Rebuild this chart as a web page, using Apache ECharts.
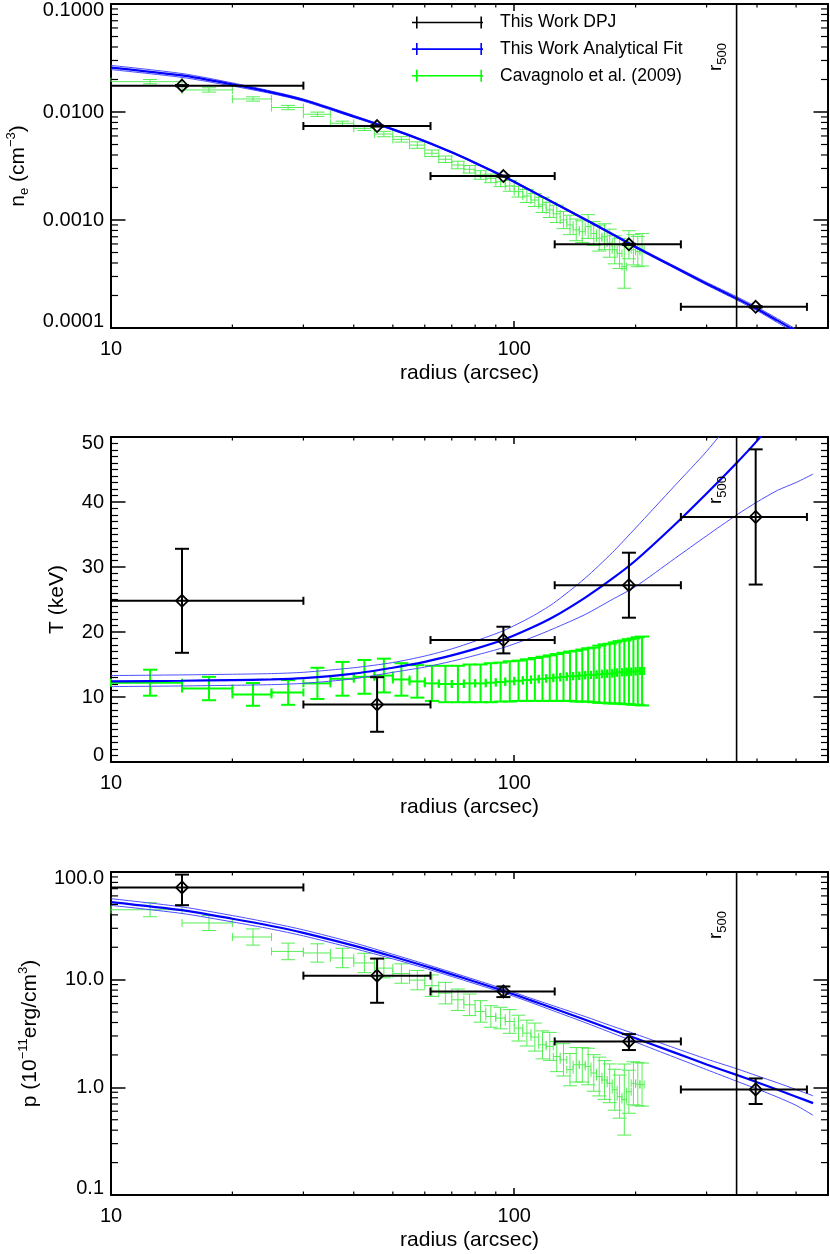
<!DOCTYPE html>
<html><head><meta charset="utf-8">
<script src="https://cdn.jsdelivr.net/npm/echarts@6/dist/echarts.min.js"></script>
<style>html,body{margin:0;padding:0;background:#fff}#c{width:830px;height:1254px}</style>
</head><body><div id="c"></div>
<script>
const FONT = 'Liberation Sans, Arial, Helvetica, sans-serif';

// ---------------- data ----------------
const R500 = 356;
const X_MIN = 10, X_MAX = 600;
const xMajorLabels = [10, 100];

// This Work DPJ (bins and values)
const dpjR   = [15, 45.7, 94, 192.5, 397];
const dpjRlo = [10, 30, 62, 126, 259];
const dpjRhi = [30, 62, 126, 259, 532];
const dpjNe    = [0.01754, 0.00741, 0.00255, 0.000595, 0.000157];
const dpjNeErr = [0.0002, 0.00008, 0.00003, 0.000007, 0.000002];
const dpjT    = [24.8, 8.85, 18.76, 27.2, 37.7];
const dpjTErr = [8.0, 4.2, 2.05, 5.0, 10.4];
const dpjP    = [71.9, 10.9, 7.77, 2.67, 0.955];
const dpjPErr = [22.7, 4.8, 0.88, 0.45, 0.255];

// Analytical fit (main, upper, lower)
const fitR = [10, 15, 20, 25, 30, 40, 50, 60, 70, 80, 94, 110, 125, 150, 175, 200, 250, 300, 356, 400, 450, 500, 551];
const neFit   = [0.0258, 0.0218, 0.0180, 0.0152, 0.0129, 0.0091, 0.0069, 0.00537, 0.00423, 0.00338, 0.00254, 0.00187, 0.00145, 0.00101, 0.00074, 0.000562, 0.000365, 0.000257, 0.000188, 0.000150, 0.000117, 0.0000935, 0.000076];
const neFitHi = [0.0270, 0.0227, 0.0186, 0.0156, 0.0132, 0.0093, 0.0070, 0.00545, 0.00429, 0.00343, 0.00258, 0.0019, 0.00147, 0.00103, 0.000755, 0.000574, 0.000374, 0.000265, 0.000195, 0.000156, 0.000122, 0.0000977, 0.0000795];
const neFitLo = [0.0247, 0.0209, 0.0174, 0.0148, 0.0126, 0.0089, 0.0068, 0.00529, 0.00417, 0.00333, 0.0025, 0.00184, 0.00143, 0.000995, 0.000727, 0.000551, 0.000357, 0.000250, 0.000182, 0.000145, 0.000112, 0.0000895, 0.0000727];
const tFit   = [12.4, 12.5, 12.6, 12.7, 12.9, 13.6, 14.5, 15.4, 16.4, 17.4, 18.8, 20.6, 22.3, 25.3, 28.2, 31.0, 36.5, 41.3, 46.0, 49.4, 53.3, 57.0, 60.8];
const tFitHi = [13.3, 13.4, 13.5, 13.6, 13.8, 14.5, 15.3, 16.3, 17.4, 18.6, 20.2, 22.3, 24.4, 28.3, 32.2, 36.0, 42.5, 47.8, 53.5, 58.0, 63.0, 67.5, 72.0];
const tFitLo = [11.6, 11.7, 11.8, 11.9, 12.1, 12.8, 13.8, 14.6, 15.5, 16.4, 17.6, 19.1, 20.5, 22.7, 25.0, 27.0, 31.3, 34.8, 38.0, 40.0, 41.8, 43.0, 44.3];
const pFit   = [52.6, 44.2, 36.8, 31.5, 27.2, 20.7, 16.4, 13.4, 11.2, 9.57, 7.88, 6.42, 5.42, 4.24, 3.43, 2.86, 2.10, 1.63, 1.305, 1.116, 0.949, 0.819, 0.713];
const pFitHi = [56.5, 47.4, 39.4, 33.6, 29.0, 22.0, 17.2, 14.0, 11.7, 9.99, 8.22, 6.72, 5.72, 4.54, 3.70, 3.12, 2.32, 1.83, 1.49, 1.28, 1.10, 0.954, 0.834];
const pFitLo = [49.0, 41.2, 34.4, 29.5, 25.5, 19.5, 15.6, 12.8, 10.7, 9.15, 7.56, 6.14, 5.14, 3.99, 3.19, 2.63, 1.90, 1.46, 1.14, 0.966, 0.81, 0.68, 0.55];

// Cavagnolo et al. (2009): 5-arcsec bins
const CAV_HALF_BIN = 2.5;
const cavR = [12.5,17.5,22.5,27.5,32.5,37.5,42.5,47.5,52.5,57.5,62.5,67.5,72.5,77.5,82.5,87.5,92.5,97.5,102.5,107.5,112.5,117.5,122.5,127.5,132.5,137.5,142.5,147.5,152.5,157.5,162.5,167.5,172.5,177.5,182.5,187.5,192.5,197.5,202.5,207.5];
const cavNe = [0.0191, 0.0160, 0.0132, 0.0110, 0.00953, 0.00786, 0.00706, 0.00625, 0.00558, 0.00494, 0.00415, 0.00365, 0.00323, 0.00295, 0.00261, 0.00243, 0.00226, 0.00207, 0.00183, 0.00167, 0.00153, 0.00138, 0.00124, 0.00114, 0.00100, 0.00090, 0.00081, 0.00078, 0.00087, 0.00075, 0.00068, 0.00070, 0.00061, 0.00053, 0.00049, 0.00037, 0.00059, 0.00053, 0.00051, 0.00053];
const cavNeErrDex = [0.02,0.02,0.02,0.02,0.02,0.02,0.02,0.025,0.025,0.03,0.03,0.03,0.035,0.035,0.04,0.04,0.045,0.05,0.05,0.06,0.06,0.07,0.07,0.08,0.08,0.09,0.1,0.1,0.11,0.11,0.12,0.12,0.13,0.13,0.14,0.2,0.13,0.14,0.14,0.15];
const cavT = [12.2, 11.3, 10.4, 10.7, 12.1, 12.8, 13.1, 13.3, 12.7, 12.4, 12.1, 12.0, 12.0, 12.1, 12.1, 12.2, 12.3, 12.4, 12.5, 12.6, 12.7, 12.8, 12.9, 13.0, 13.1, 13.2, 13.2, 13.3, 13.4, 13.4, 13.5, 13.6, 13.6, 13.7, 13.8, 13.8, 13.9, 13.9, 14.0, 14.0];
const cavTErr = [2.0, 1.8, 1.75, 1.9, 2.4, 2.6, 2.6, 2.6, 2.5, 2.5, 2.7, 2.8, 2.8, 2.9, 2.9, 3.0, 3.0, 3.1, 3.1, 3.2, 3.3, 3.4, 3.5, 3.6, 3.7, 3.8, 3.9, 4.0, 4.1, 4.2, 4.4, 4.5, 4.6, 4.7, 4.8, 4.9, 5.0, 5.1, 5.2, 5.3];
const cavP = [44.6, 33.6, 24.9, 18.3, 17.7, 15.9, 14.3, 12.8, 11.4, 9.9, 8.8, 7.5, 6.5, 5.84, 5.07, 4.55, 4.40, 4.09, 3.55, 3.19, 2.93, 2.48, 2.40, 1.93, 1.80, 1.46, 1.62, 1.62, 1.56, 1.36, 1.26, 1.17, 1.09, 0.95, 0.82, 0.77, 0.91, 1.09, 1.07, 1.06];
const cavPErrDex = [0.065,0.07,0.075,0.077,0.085,0.09,0.09,0.09,0.09,0.09,0.1,0.1,0.1,0.1,0.1,0.1,0.1,0.11,0.12,0.12,0.13,0.13,0.13,0.14,0.15,0.15,0.16,0.16,0.17,0.17,0.18,0.18,0.18,0.19,0.2,0.33,0.2,0.2,0.2,0.2];

// minor tick values
const xMinorTicks = [20,30,40,50,60,70,80,90,200,300,400,500];
const neDecades = [0.0001, 0.001, 0.01];
const pDecades = [0.1, 1, 10];
const minorMultipliers = [2,3,4,5,6,7,8,9];

// ---------------- helpers ----------------
function logMinor(decades){ const out=[]; decades.forEach(d=>minorMultipliers.forEach(m=>out.push(+(d*m).toPrecision(3)))); return out; }

function errRender(color, width, capV, capH, diamond){
  return function(params, api){
    const r=api.value(0), v=api.value(1);
    const c=api.coord([r,v]), L=api.coord([api.value(2),v]), R=api.coord([api.value(3),v]);
    const B=api.coord([r,api.value(4)]), T=api.coord([r,api.value(5)]);
    const seg=(x1,y1,x2,y2)=>({type:'line',shape:{x1,y1,x2,y2},style:{stroke:color,lineWidth:width}});
    const ch=[
      seg(L[0],c[1],R[0],c[1]),
      seg(L[0],c[1]-capH,L[0],c[1]+capH),
      seg(R[0],c[1]-capH,R[0],c[1]+capH),
      seg(c[0],B[1],c[0],T[1]),
      seg(c[0]-capV,B[1],c[0]+capV,B[1]),
      seg(c[0]-capV,T[1],c[0]+capV,T[1])
    ];
    if(diamond){
      const s=6;
      ch.push({type:'polygon',shape:{points:[[c[0],c[1]-s],[c[0]+s,c[1]],[c[0],c[1]+s],[c[0]-s,c[1]]]},style:{stroke:'#000',lineWidth:1.8,fill:'rgba(0,0,0,0)'}});
    }
    return {type:'group',children:ch};
  };
}

function tickRender(params, api){
  const cs=params.coordSys;
  const p=api.coord([api.value(0),api.value(1)]);
  const st=()=>({stroke:'#000',lineWidth:1.2});
  if(api.value(2)===0){
    const yb=cs.y+cs.height, yt=cs.y;
    return {type:'group',children:[
      {type:'line',shape:{x1:p[0],y1:yb,x2:p[0],y2:yb-3.5},style:st()},
      {type:'line',shape:{x1:p[0],y1:yt,x2:p[0],y2:yt+3.5},style:st()}]};
  }
  const xl=cs.x, xr=cs.x+cs.width;
  return {type:'group',children:[
    {type:'line',shape:{x1:xl,y1:p[1],x2:xl+7,y2:p[1]},style:st()},
    {type:'line',shape:{x1:xr,y1:p[1],x2:xr-7,y2:p[1]},style:st()}]};
}

function r500Render(params, api){
  const cs=params.coordSys;
  const p=api.coord([api.value(0),api.value(1)]);
  return {type:'group',children:[
    {type:'line',shape:{x1:p[0],y1:cs.y,x2:p[0],y2:cs.y+cs.height},style:{stroke:'#000',lineWidth:1.6}},
    {type:'text',x:p[0]-21,y:cs.y+53,rotation:Math.PI/2,
     style:{text:'{r|r}{s|500}',align:'center',verticalAlign:'middle',fill:'#000',
       rich:{r:{fontSize:19,lineHeight:26,verticalAlign:'middle',fontFamily:FONT,fill:'#000'},
             s:{fontSize:13,lineHeight:7,verticalAlign:'bottom',fontFamily:FONT,fill:'#000'}}}}
  ]};
}

// ---------------- axes ----------------
const baseLine = {show:true,onZero:false,lineStyle:{color:'#000',width:2}};
function xAxes(g, nameGap){
  const common = {gridIndex:g,type:'log',logBase:10,min:X_MIN,max:X_MAX,splitLine:{show:false},axisLine:baseLine,
    axisTick:{show:true,inside:true,length:7,lineStyle:{color:'#000',width:1.5}}};
  return [
    Object.assign({},common,{position:'bottom',
      axisLabel:{show:true,margin:10,fontSize:20,lineHeight:22,color:'#000',fontFamily:FONT,
        formatter:v=>{const m=xMajorLabels.find(t=>Math.abs(t-v)<1e-6*t);return m?String(m):'';}},
      name:'radius (arcsec)',nameLocation:'middle',nameGap:nameGap,
      nameTextStyle:{fontSize:21,lineHeight:24,color:'#000',fontFamily:FONT}}),
    Object.assign({},common,{position:'top',axisLabel:{show:false}})
  ];
}
const lblRich = {
  t:{padding:[12,0,0,0],fontSize:20,fontFamily:FONT,color:'#000'},
  b:{padding:[0,0,13,0],fontSize:20,fontFamily:FONT,color:'#000'}
};
function yAxes(g, base, fmt, name, nameGap, nameRich){
  const common = Object.assign({gridIndex:g,splitLine:{show:false},axisLine:baseLine,
    axisTick:{show:true,inside:true,length:14.5,lineStyle:{color:'#000',width:1.5}}},base);
  const nts = {fontSize:21,lineHeight:26,color:'#000',fontFamily:FONT};
  if(nameRich) nts.rich=nameRich;
  return [
    Object.assign({},common,{position:'left',
      axisLabel:{show:true,margin:7,fontSize:20,color:'#000',fontFamily:FONT,formatter:fmt,rich:lblRich},
      name:name,nameLocation:'middle',nameGap:nameGap,nameRotate:90,nameTextStyle:nts}),
    Object.assign({},common,{position:'right',axisLabel:{show:false}})
  ];
}
function edgeFmt(minV,maxV,digits){
  return v=>{const s=v.toFixed(digits);
    if(Math.abs(v-maxV)<1e-6*maxV) return '{t|'+s+'}';
    if(Math.abs(v-minV)<1e-6*Math.max(minV,1e-9)) return '{b|'+s+'}';
    return s;};
}
const baseRich = {fontSize:21,lineHeight:26,verticalAlign:'middle',fontFamily:FONT,color:'#000'};
const supRich = {fontSize:13,lineHeight:17,verticalAlign:'top',fontFamily:FONT,color:'#000'};
const subRich = {fontSize:13,lineHeight:15,verticalAlign:'bottom',fontFamily:FONT,color:'#000'};
const nameRich = {a:baseRich,p:supRich,s:subRich};

const grids = [
  {left:111,right:2,top:4,height:324,containLabel:false,outerBoundsMode:'none'},
  {left:111,right:2,top:437,height:325,containLabel:false,outerBoundsMode:'none'},
  {left:111,right:2,top:872,height:323,containLabel:false,outerBoundsMode:'none'}
];
const xAxisList = [].concat(xAxes(0,31), xAxes(1,32), xAxes(2,28));
const yAxisList = [].concat(
  yAxes(0,{type:'log',logBase:10,min:0.0001,max:0.1},edgeFmt(0.0001,0.1,4),'{a|n}{s|e}{a| (cm}{p|−3}{a|)}',80,nameRich),
  yAxes(1,{type:'value',min:0,max:50,interval:10,minorTick:{show:true,splitNumber:10,length:7,lineStyle:{color:'#000',width:1.2}}},edgeFmt(0,50,0),'T (keV)',41,null),
  yAxes(2,{type:'log',logBase:10,min:0.1,max:100},edgeFmt(0.1,100,1),'{a|p (10}{p|−11}{a|erg/cm}{p|3}{a|)}',68,nameRich)
);

// ---------------- series ----------------
const series = [];
const SMOOTH = 0.25;
function addPanel(g, o){
  const ax = {xAxisIndex:2*g, yAxisIndex:2*g};
  series.push(Object.assign({type:'custom',name:'Cavagnolo et al. (2009)',silent:true,z:2,
    itemStyle:{color:o.cavColor},renderItem:errRender(o.cavColor,o.cavWidth,7,4,false),data:o.cav},ax));
  series.push(Object.assign({type:'line',name:'fitHi'+g,silent:true,z:3,showSymbol:false,symbol:'none',smooth:SMOOTH,
    lineStyle:{color:'#4d4dff',width:1},itemStyle:{color:'#4d4dff'},data:fitR.map((r,i)=>[r,o.hi[i]])},ax));
  series.push(Object.assign({type:'line',name:'fitLo'+g,silent:true,z:3,showSymbol:false,symbol:'none',smooth:SMOOTH,
    lineStyle:{color:'#4d4dff',width:1},itemStyle:{color:'#4d4dff'},data:fitR.map((r,i)=>[r,o.lo[i]])},ax));
  series.push(Object.assign({type:'line',name:'This Work Analytical Fit',silent:true,z:3,showSymbol:false,symbol:'none',smooth:SMOOTH,
    lineStyle:{color:'#0000ff',width:2.2},itemStyle:{color:'#0000ff'},data:fitR.map((r,i)=>[r,o.main[i]])},ax));
  series.push(Object.assign({type:'custom',name:'This Work DPJ',silent:true,z:4,
    itemStyle:{color:'#000'},renderItem:errRender('#000',2,7,4,true),data:o.dpj},ax));
  series.push(Object.assign({type:'custom',name:'r500_'+g,silent:true,z:5,renderItem:r500Render,data:[[R500,o.yRef]]},ax));
  series.push(Object.assign({type:'custom',name:'ticks_'+g,silent:true,z:6,renderItem:tickRender,data:o.ticks},ax));
}

const dex = e => Math.pow(10,e);
addPanel(0,{
  cavColor:'#55ee55',cavWidth:1,
  cav:cavR.map((r,i)=>[r,cavNe[i],r-CAV_HALF_BIN,r+CAV_HALF_BIN,cavNe[i]/dex(cavNeErrDex[i]),cavNe[i]*dex(cavNeErrDex[i])]),
  main:neFit,hi:neFitHi,lo:neFitLo,
  dpj:dpjR.map((r,i)=>[r,dpjNe[i],dpjRlo[i],dpjRhi[i],dpjNe[i]-dpjNeErr[i],dpjNe[i]+dpjNeErr[i]]),
  yRef:0.001,
  ticks:xMinorTicks.map(v=>[v,0.001,0]).concat(logMinor(neDecades).map(v=>[100,v,1]))
});
addPanel(1,{
  cavColor:'#00ff00',cavWidth:2,
  cav:cavR.map((r,i)=>[r,cavT[i],r-CAV_HALF_BIN,r+CAV_HALF_BIN,cavT[i]-cavTErr[i],cavT[i]+cavTErr[i]]),
  main:tFit,hi:tFitHi,lo:tFitLo,
  dpj:dpjR.map((r,i)=>[r,dpjT[i],dpjRlo[i],dpjRhi[i],dpjT[i]-dpjTErr[i],dpjT[i]+dpjTErr[i]]),
  yRef:10,
  ticks:xMinorTicks.map(v=>[v,10,0])
});
addPanel(2,{
  cavColor:'#55ee55',cavWidth:1,
  cav:cavR.map((r,i)=>[r,cavP[i],r-CAV_HALF_BIN,r+CAV_HALF_BIN,cavP[i]/dex(cavPErrDex[i]),cavP[i]*dex(cavPErrDex[i])]),
  main:pFit,hi:pFitHi,lo:pFitLo,
  dpj:dpjR.map((r,i)=>[r,dpjP[i],dpjRlo[i],dpjRhi[i],dpjP[i]-dpjPErr[i],dpjP[i]+dpjPErr[i]]),
  yRef:1,
  ticks:xMinorTicks.map(v=>[v,1,0]).concat(logMinor(pDecades).map(v=>[100,v,1]))
});

const ICON = 'path://M0,5.2h71v1.6h-71z M4,0h1.6v12h-1.6z M68.4,0h1.6v12h-1.6z M82.9,5.95h0.1v0.1h-0.1z';
const option = {
  animation:false,
  backgroundColor:'#ffffff',
  grid:grids,
  xAxis:xAxisList,
  yAxis:yAxisList,
  legend:{show:true,orient:'vertical',left:407,top:7.5,itemWidth:83,itemHeight:12,itemGap:6.6,selectedMode:false,
    textStyle:{fontSize:17.5,lineHeight:20,color:'#000',fontFamily:FONT},
    data:[
      {name:'This Work DPJ',icon:ICON,itemStyle:{color:'#000'}},
      {name:'This Work Analytical Fit',icon:ICON,itemStyle:{color:'#0000ff'}},
      {name:'Cavagnolo et al. (2009)',icon:ICON,itemStyle:{color:'#00ff00'}}
    ]},
  series:series
};
const chart = echarts.init(document.getElementById('c'),null,{renderer:'canvas'});
chart.setOption(option);
</script></body></html>
